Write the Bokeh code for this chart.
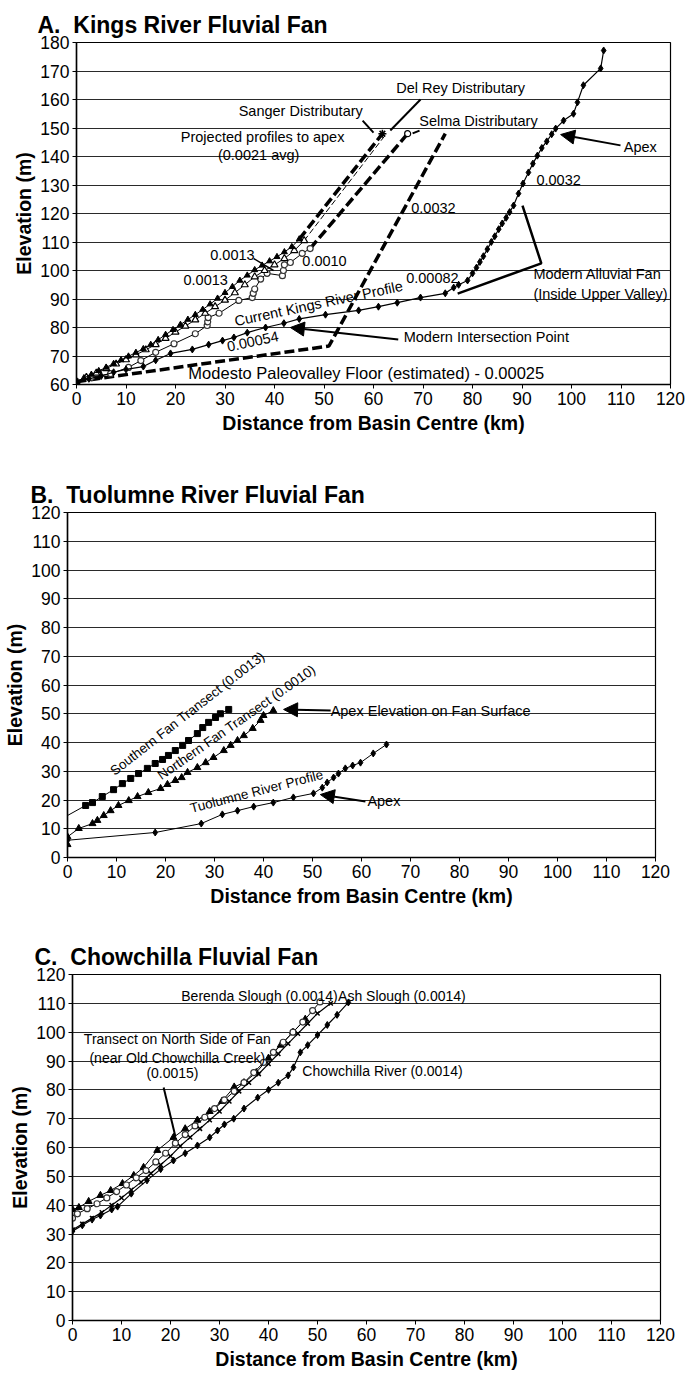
from bokeh.plotting import figure
from bokeh.layouts import column, row
from bokeh.models import Label, Arrow, NormalHead, Range1d, FixedTicker
from bokeh.embed import file_html
from bokeh.resources import INLINE

FONT = "Liberation Sans"
GAP = "\u00a0\u00a0"

# ---------------- A. Kings River ----------------
kings_x = [0, 2.5, 5, 7.5, 10, 13.5, 16, 19, 23.4, 26.7, 29.5, 31.8, 34.5, 38.2, 41.9, 45, 50.3,
           57, 61, 64.8, 69.5, 74.5, 76.2, 77.2, 79, 80, 80.8, 81.5, 82.2, 83, 83.8, 84.5, 85.3,
           86, 86.8, 87.5, 88.3, 89.3, 90.2, 91.3, 92.2, 93.1, 94, 95, 96, 96.8, 98.4, 100.4,
           101.2, 102.4, 105.9, 106.5]
kings_y = [61, 62, 63, 64.3, 65.3, 66.3, 68.5, 70.9, 72.3, 74, 75.4, 76.5, 78.2, 80, 81.5, 83, 84.5,
           86, 87.3, 88.7, 90.5, 92, 94, 95, 96.5, 99, 101, 103, 105, 107.5, 110, 112, 114.5,
           116.5, 118.5, 120.5, 122.8, 127, 130.5, 134.4, 137.5, 140.3, 143, 145.3, 147.8, 149.8,
           152.6, 155, 159, 165, 170.9, 177.2]

sanger_x = [0, 1.5, 3, 4.5, 6, 7.5, 9, 10.5, 12, 13.5, 15, 16.5, 18, 19.5, 21, 22.5, 24, 25.5, 27,
            28.5, 30, 31.5, 33, 34.5, 36, 37.5, 39, 40.5, 42, 43.5, 45]
sanger_y = [61, 62.3, 63.5, 64.8, 66, 67.3, 68.6, 69.9, 71.2, 72.5, 74, 75.7, 77.5, 79.2, 81, 82.8,
            84.5, 86.3, 88.2, 90.2, 92.2, 94.3, 96.5, 98.3, 100.2, 101.8, 103.3, 104.8, 106.5,
            108.3, 111]
delrey_x = [0, 2, 4, 6, 8, 10, 12, 14, 16, 18, 20, 22, 24, 26, 28, 30, 32, 34, 36, 38, 40, 42, 44, 46]
delrey_y = [61, 62.5, 64, 65.6, 67.2, 68.7, 70.4, 72.2, 74, 76.2, 78.4, 80.5, 82.7, 85, 87.3, 89.6,
            92.2, 95, 97.8, 100, 102, 104.2, 107, 110.5]
selma_x = [0, 3, 6.9, 10.5, 13, 16, 19.7, 24, 26.4, 26.5, 26.6, 28.8, 32.8, 35.5, 35.7, 36, 37.2,
           38.5, 41.6, 41.8, 42, 43.2, 45.6, 47.2]
selma_y = [61, 62.5, 63.8, 66, 68.4, 71.3, 74.3, 77.8, 80.7, 82, 83.5, 85, 89.5, 90.5, 92, 93.5, 97,
           99, 98.2, 100, 102, 102.8, 106, 107.7]

# projected profiles up to the apex elevation
sanger_proj_x = [45, 61.8]
sanger_proj_y = [111, 148]
delrey_proj_x = [46, 62.6]
delrey_proj_y = [110.5, 148]
selma_proj_x = [47.2, 66.9]
selma_proj_y = [107.7, 148]

paleo_x = [0, 51, 74.5]
paleo_y = [61, 73.5, 148]

# ---------------- B. Tuolumne River ----------------
south_x = [0, 3.7, 5.1, 7.1, 9.4, 11.2, 12.9, 14.5, 16.3, 17.9, 19.4, 20.6, 22, 23.5, 24.7, 26.5,
           27.6, 28.8, 30.2, 31.2, 32.9]
south_y = [14.6, 18.1, 19.1, 21.2, 23.6, 25.7, 27.5, 29.2, 31, 32.7, 34.1, 35.5, 37.2, 39, 40.7,
           43.1, 45.2, 47, 48.7, 50, 51.5]
north_x = [0, 0, 2.3, 5.1, 6.1, 7.4, 8.8, 10.4, 12.5, 14.3, 16.5, 19, 20.4, 22, 23.3, 24.5, 26.5,
           28.2, 29.8, 31.9, 33.3, 34.7, 36, 37.8, 39.4, 40, 42]
north_y = [4.5, 7.2, 10.1, 11.8, 12.9, 14.6, 16.3, 18.1, 19.8, 21.2, 22.6, 24, 25.4, 26.8, 27.8,
           29.6, 31.3, 33, 34.8, 37.2, 39, 40.7, 42.4, 44.9, 47.7, 49.4, 51.1]
tuol_x = [0, 17.9, 27.3, 31.6, 34.7, 38, 42, 46.1, 50.2, 52, 53, 54.3, 55.3, 56.7, 58.2, 59.8,
          62.4, 65.1]
tuol_y = [6, 8.7, 11.8, 15, 16.3, 17.7, 19.1, 20.9, 22.3, 24.3, 26.1, 27.8, 29.2, 31, 32, 33,
          36.2, 39.3]

# ---------------- C. Chowchilla ----------------
ntrans_x = [0, 1.3, 3.3, 5.7, 7.8, 10.2, 12.5, 14.5, 17.3, 20.6, 23, 25.5, 28, 30.5, 33, 35,
            37.5, 40, 42.5, 45, 47.5]
ntrans_y = [38.5, 39.2, 41.3, 43.4, 45.1, 47.5, 50.3, 53.1, 59, 63.5, 66.5, 69.5, 72.5, 76, 81,
            82.5, 86, 91, 95.5, 100, 104.5]
berenda_x = [0, 1, 3, 5, 7, 9, 11, 13, 15, 17, 19, 21, 23, 25, 27, 29, 31, 33, 35, 37, 39, 41,
             43, 45, 47, 49, 50.5]
berenda_y = [35.5, 37, 38.8, 40.5, 42.5, 44.7, 47, 49.5, 52, 55, 58, 61.5, 64.5, 67.5, 70.5, 73.5,
             76.5, 79.5, 82.5, 86, 89.5, 93, 96.5, 100, 103.5, 107.5, 110.5]
ash_x = [0, 2, 4, 6, 8, 10, 12, 14, 16, 18, 20, 22, 24, 26, 28, 30, 32, 34, 36, 38, 40, 42, 44,
         46, 48, 50, 52.7]
ash_y = [31.5, 33.5, 35.5, 37.5, 40, 42.5, 45.3, 48, 51, 54, 57, 60.5, 63.5, 66.5, 69.5, 72.5,
         76, 79.5, 82.5, 85.5, 89, 92.5, 96, 99.5, 103, 106.5, 110]
chow_x = [0, 2, 4, 5.7, 8, 9.2, 12, 15.2, 18, 20.6, 23, 25.5, 28, 29.6, 31, 32.9, 35, 37.8, 40,
          42, 44, 45.1, 46.5, 48, 50, 52, 54, 56.3]
chow_y = [31, 33, 35, 36.4, 38.5, 39.5, 44, 48.6, 52.5, 55.5, 58, 60.7, 63.5, 65.9, 68, 70, 73.5,
          77.3, 80, 82.5, 85, 87.8, 93, 95.5, 99, 102.5, 106, 110.3]

X_TICKS = list(range(0, 121, 10))


def make_fig(title, ymin, ymax, fw, fh, left, right, top, bottom, title_offset, title_standoff):
    p = figure(width=left + fw + right, height=top + fh + bottom,
               frame_width=fw, frame_height=fh,
               min_border_left=left, min_border_right=right,
               min_border_top=top, min_border_bottom=bottom,
               x_range=Range1d(0, 120), y_range=Range1d(ymin, ymax),
               output_backend="svg", toolbar_location=None,
               background_fill_color="white", border_fill_color="white")
    p.title.text = title
    p.title.align = "left"
    p.title.offset = title_offset
    p.title.standoff = title_standoff
    p.title.text_font = FONT
    p.title.text_font_style = "bold"
    p.title.text_font_size = "23px"
    p.title.text_color = "black"

    p.xaxis.ticker = FixedTicker(ticks=X_TICKS)
    p.yaxis.ticker = FixedTicker(ticks=list(range(ymin, ymax + 1, 10)))
    for ax in (p.xaxis[0], p.yaxis[0]):
        ax.minor_tick_line_color = None
        ax.major_tick_in = 0
        ax.major_tick_out = 4
        ax.major_tick_line_color = "black"
        ax.axis_line_color = "black"
        ax.axis_line_width = 1.5
        ax.major_label_text_font = FONT
        ax.major_label_text_font_size = "17.5px"
        ax.major_label_text_color = "black"
        ax.axis_label_text_font = FONT
        ax.axis_label_text_font_style = "bold"
        ax.axis_label_text_font_size = "19.5px"
        ax.axis_label_text_color = "black"
    p.xaxis.axis_label = "Distance from Basin Centre (km)"
    p.yaxis.axis_label = "Elevation (m)"
    p.xaxis.major_label_standoff = 3
    p.xaxis.axis_label_standoff = 4
    p.yaxis.major_label_standoff = 3
    p.yaxis.axis_label_standoff = 2

    p.xgrid.visible = False
    p.ygrid.grid_line_color = "#2a2a2a"
    p.ygrid.grid_line_width = 1
    p.outline_line_color = "black"
    p.outline_line_width = 1.2
    return p


def label(p, x, y, text, size="14.5px", align="left", angle=0.0):
    p.add_layout(Label(x=x, y=y, text=text, text_font=FONT, text_font_size=size,
                       text_color="black", text_align=align, text_baseline="middle",
                       angle=angle, angle_units="deg"))


def arrow(p, x0, y0, x1, y1, head=True, width=2):
    h = NormalHead(size=14, fill_color="black", line_color="black") if head else None
    p.add_layout(Arrow(x_start=x0, y_start=y0, x_end=x1, y_end=y1, end=h,
                       line_color="black", line_width=width))


# ===== panel A =====
pa = make_fig("A." + GAP + "Kings River Fluvial Fan", 60, 180, 594, 342, 76, 18, 42, 61, -39, 10)

pa.line(paleo_x, paleo_y, line_color="black", line_width=3.5, line_dash="10 4")
pa.line(sanger_proj_x, sanger_proj_y, line_color="black", line_width=3.5, line_dash="10 4")
pa.line(delrey_proj_x, delrey_proj_y, line_color="black", line_width=1, line_dash="6 3")
pa.line(selma_proj_x, selma_proj_y, line_color="black", line_width=3.5, line_dash="10 4")

pa.line(selma_x, selma_y, line_color="black", line_width=1)
pa.scatter(selma_x, selma_y, marker="circle", size=6, line_color="#333", fill_color="white",
           line_width=1.2)
pa.line(delrey_x, delrey_y, line_color="black", line_width=1)
pa.scatter(delrey_x, delrey_y, marker="triangle", size=7, line_color="black", fill_color="white",
           line_width=1.2)
pa.line(sanger_x, sanger_y, line_color="black", line_width=1)
pa.scatter(sanger_x, sanger_y, marker="triangle", size=6, line_color="black", fill_color="black")
pa.scatter([sanger_proj_x[-1]], [sanger_proj_y[-1]], marker="asterisk", size=8, line_color="black",
           line_width=1.5)
pa.scatter([selma_proj_x[-1]], [selma_proj_y[-1]], marker="circle", size=6, line_color="black",
           fill_color="white", line_width=1.2)

pa.line(kings_x, kings_y, line_color="black", line_width=1.2)
pa.scatter(kings_x, kings_y, marker="diamond", size=7, line_color="black", fill_color="black")

label(pa, 37.6, 146.7, "Projected profiles to apex", align="center")
label(pa, 36.8, 140.4, "(0.0021 avg)", align="center")
label(pa, 45.3, 156.1, "Sanger Distributary", align="center")
label(pa, 77.6, 163.9, "Del Rey Distributary", align="center")
label(pa, 81.2, 152.3, "Selma Distributary", align="center")
label(pa, 113.9, 143.5, "Apex", align="center")
label(pa, 97.4, 131.6, "0.0032", align="center")
label(pa, 72.1, 121.8, "0.0032", align="center")
label(pa, 92.3, 98.6, "Modern Alluvial Fan")
label(pa, 92.3, 91.9, "(Inside Upper Valley)")
label(pa, 71.9, 97.2, "0.00082", align="center")
label(pa, 48.9, 88.4, "Current Kings River Profile", align="center", angle=12)
label(pa, 35.6, 75.1, "0.00054", align="center", angle=12)
label(pa, 66.1, 76.8, "Modern Intersection Point")
label(pa, 22.6, 63.9, "Modesto Paleovalley Floor (estimated) - 0.00025", size="16.5px")
label(pa, 31.5, 105.6, "0.0013", align="center")
label(pa, 26.1, 96.5, "0.0013", align="center")
label(pa, 50.1, 103.5, "0.0010", align="center")

arrow(pa, 109.9, 143.9, 97.8, 147.7)
arrow(pa, 65.0, 75.8, 43.2, 80.0)
arrow(pa, 35.8, 104.2, 39.8, 100.0, head=False, width=1.5)
pa.line([57.8, 60.0], [152.6, 148.4], line_color="black", line_width=2)
pa.line([69.5, 63.4], [160.0, 149.1], line_color="black", line_width=2)
pa.line([67.9, 69.3], [148.1, 149.1], line_color="black", line_width=2)
pa.line([90.1, 93.9, 77.0], [122.8, 102.5, 91.9], line_color="black", line_width=2.5)

# ===== panel B =====
pb = make_fig("B." + GAP + "Tuolumne River Fluvial Fan", 0, 120, 588, 345, 67, 33, 67, 58, -37, 10)

pb.line(south_x, south_y, line_color="black", line_width=1)
pb.scatter(south_x[1:], south_y[1:], marker="square", size=6, line_color="black", fill_color="black")
pb.line(north_x[1:], north_y[1:], line_color="black", line_width=1)
pb.scatter(north_x, north_y, marker="triangle", size=7, line_color="black", fill_color="black")
pb.line(tuol_x, tuol_y, line_color="black", line_width=1)
pb.scatter(tuol_x, tuol_y, marker="diamond", size=7, line_color="black", fill_color="black")

label(pb, 24.5, 50.1, "Southern Fan Transect (0.0013)", size="13.5px", align="center", angle=38)
label(pb, 34.5, 47.0, "Northern Fan Transect (0.0010)", size="13.5px", align="center", angle=35)
label(pb, 38.6, 23.0, "Tuolumne River Profile", size="13.5px", align="center", angle=14.6)
label(pb, 53.7, 51.1, "Apex Elevation on Fan Surface")
label(pb, 61.2, 19.5, "Apex")
arrow(pb, 53.7, 51.1, 44.1, 51.5)
arrow(pb, 60.8, 19.5, 51.6, 21.9)

# ===== panel C =====
pc = make_fig("C." + GAP + "Chowchilla Fluvial Fan", 0, 120, 588, 346, 72, 28, 59, 56, -38, 10)

pc.line(ntrans_x, ntrans_y, line_color="black", line_width=1)
pc.scatter(ntrans_x, ntrans_y, marker="triangle", size=7, line_color="black", fill_color="black")
pc.line(berenda_x, berenda_y, line_color="black", line_width=1)
pc.scatter(berenda_x, berenda_y, marker="circle", size=6, line_color="#333", fill_color="white",
           line_width=1.2)
pc.line(ash_x, ash_y, line_color="black", line_width=1.2)
pc.scatter(ash_x, ash_y, marker="x", size=6, line_color="black", line_width=1.5)
pc.line(chow_x, chow_y, line_color="black", line_width=1.2)
pc.scatter(chow_x, chow_y, marker="diamond", size=7, line_color="black", fill_color="black")

label(pc, 22.2, 112.7, "Berenda Slough (0.0014)", size="14px")
label(pc, 54.2, 112.7, "Ash Slough (0.0014)", size="14px")
label(pc, 21.4, 97.5, "Transect on North Side of Fan", size="14px", align="center")
label(pc, 21.4, 90.9, "(near Old Chowchilla Creek)", size="14px", align="center")
label(pc, 20.4, 85.7, "(0.0015)", size="14px", align="center")
label(pc, 46.9, 86.7, "Chowchilla River (0.0014)", size="14px")
pc.line([18.6, 21.0], [80.8, 63.8], line_color="black", line_width=2)

# each panel sits in its own row so its frame keeps its own left margin
layout = column(row(pa), row(pb), row(pc), spacing=0)
open("out.html", "w").write(file_html(layout, INLINE))
